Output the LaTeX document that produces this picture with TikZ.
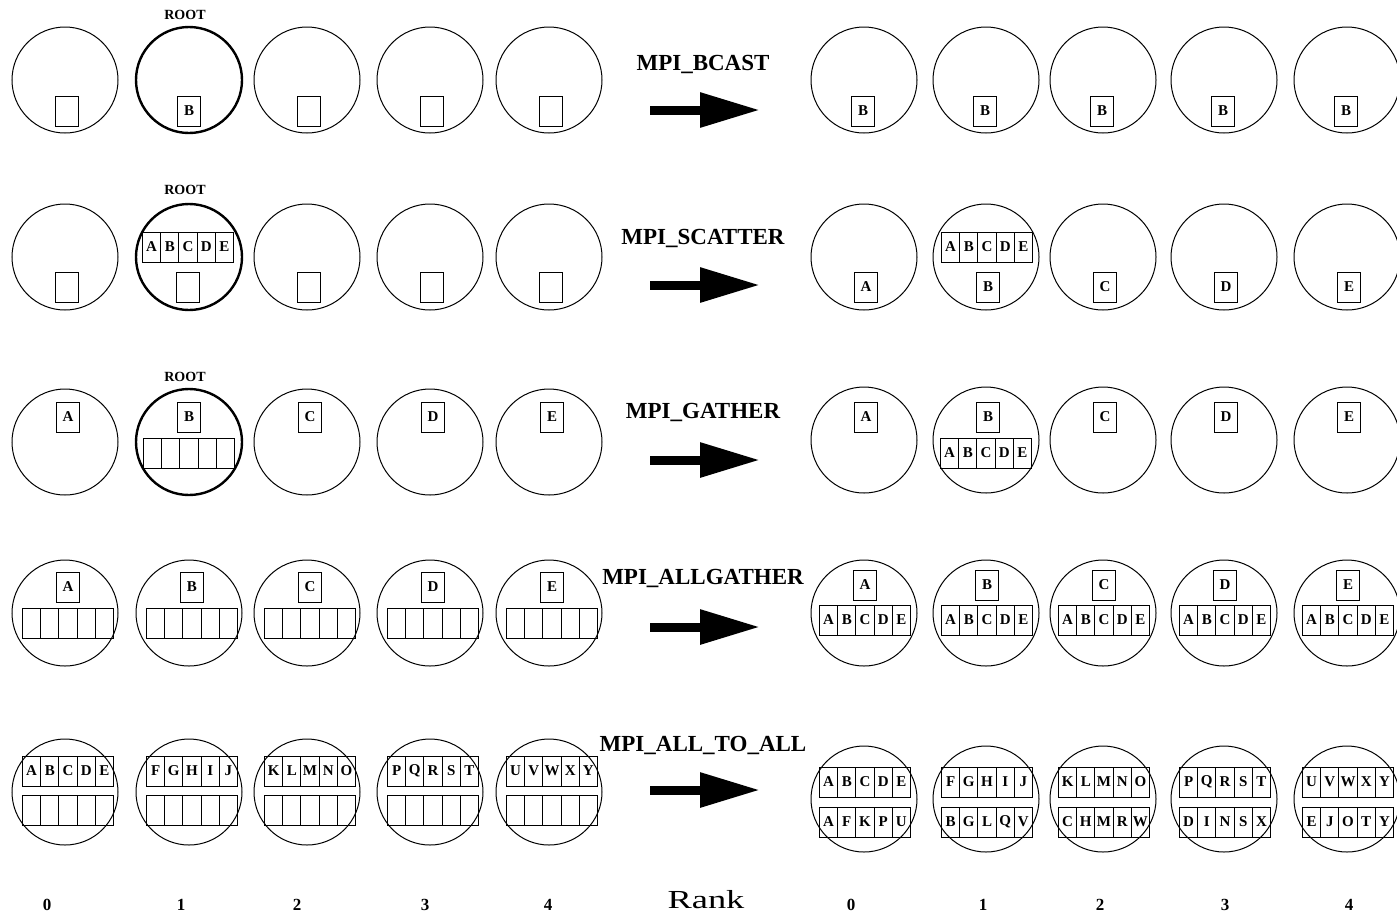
\documentclass[tikz,border=0pt]{standalone}
\usepackage{fontspec}
\usepackage{graphicx}
\setmainfont{Liberation Serif}
\usetikzlibrary{arrows.meta}
\newcommand\cellfont{\fontsize{15}{15}\selectfont\bfseries}
\newcommand\opfont{\fontsize{23}{23}\selectfont\bfseries}
\newcommand\rootfont{\fontsize{14}{14}\selectfont\bfseries}
\newcommand\ranknumfont{\fontsize{17}{17}\selectfont\bfseries}
\newcommand\ranklabfont{\fontsize{26}{26}\selectfont}
% array of five cells: name, x, y, letters
\newcommand\bufarray[4]{%
  \edef\celllist{#4}%
  \foreach \L [count=\k] in \celllist
    \node[cell] (#1-\k) at ({#2+(\k-3)*18.2},#3) {\L};}
\begin{document}
\begin{tikzpicture}[x=1pt,y=-1pt,
  proc/.style={circle,draw,line width=1pt,minimum size=106pt,inner sep=0pt},
  rootproc/.style={proc,line width=2.4pt},
  buf/.style={draw,line width=1pt,minimum width=23pt,minimum height=30pt,inner sep=0pt,font=\cellfont},
  cell/.style={draw,line width=1pt,minimum width=18.2pt,minimum height=30pt,inner sep=0pt,font=\cellfont},
  oplabel/.style={font=\opfont,inner sep=0pt},
  rootlabel/.style={font=\rootfont,inner sep=0pt},
  bigarrow/.style={line width=9pt,-{Triangle[length=60pt,width=33pt]}},
  ranknum/.style={font=\ranknumfont,inner sep=0pt},
  ranklab/.style={font=\ranklabfont,inner sep=0pt}]
\useasboundingbox (0,0) rectangle (1397,914);

% ---------------- Row 1: MPI_BCAST ----------------
\foreach \x [count=\i from 0] in {65,189,307,430,549} {
  \ifnum\i=1
    \node[rootproc] (b-l\i) at (\x,80) {};
    \node[buf] (b-lbuf\i) at (\x,111) {B};
  \else
    \node[proc] (b-l\i) at (\x,80) {};
    \node[buf] (b-lbuf\i) at (\x+2,111) {};
  \fi
}
\node[rootlabel] (b-root) at (185,15) {ROOT};
\foreach \x [count=\i from 0] in {864,986,1103,1224,1347} {
  \node[proc] (b-r\i) at (\x,80) {};
  \node[buf] (b-rbuf\i) at (\x-1,111) {B};
}
\node[oplabel] (b-op) at (703,64) {MPI\_BCAST};
\coordinate (b-as) at (650,110);
\coordinate (b-ae) at (760,110);
\draw[bigarrow] (b-as) -- (b-ae);

% ---------------- Row 2: MPI_SCATTER ----------------
\foreach \x [count=\i from 0] in {65,189,307,430,549} {
  \ifnum\i=1
    \node[rootproc] (s-l\i) at (\x,257) {};
    \node[buf] (s-lbuf\i) at (\x-1,287) {};
  \else
    \node[proc] (s-l\i) at (\x,257) {};
    \node[buf] (s-lbuf\i) at (\x+2,287) {};
  \fi
}
\bufarray{s-larr}{188}{247}{A,B,C,D,E}
\node[rootlabel] (s-root) at (185,190) {ROOT};
\foreach \x/\L [count=\i from 0] in {864/A,986/B,1103/C,1224/D,1347/E} {
  \node[proc] (s-r\i) at (\x,257) {};
  \node[buf] (s-rbuf\i) at (\x+2,287) {\L};
}
\bufarray{s-rarr}{987}{247}{A,B,C,D,E}
\node[oplabel] (s-op) at (703,238) {MPI\_SCATTER};
\coordinate (s-as) at (650,285);
\coordinate (s-ae) at (760,285);
\draw[bigarrow] (s-as) -- (s-ae);

% ---------------- Row 3: MPI_GATHER ----------------
\foreach \x/\L [count=\i from 0] in {65/A,189/B,307/C,430/D,549/E} {
  \ifnum\i=1
    \node[rootproc] (g-l\i) at (\x,442) {};
    \node[buf] (g-lbuf\i) at (\x,417) {\L};
  \else
    \node[proc] (g-l\i) at (\x,442) {};
    \node[buf] (g-lbuf\i) at (\x+3,417) {\L};
  \fi
}
\bufarray{g-larr}{189}{453}{{},{},{},{},{}}
\node[rootlabel] (g-root) at (185,377) {ROOT};
\foreach \x/\L [count=\i from 0] in {864/A,986/B,1103/C,1224/D,1347/E} {
  \node[proc] (g-r\i) at (\x,440) {};
  \node[buf] (g-rbuf\i) at (\x+2,417) {\L};
}
\bufarray{g-rarr}{986}{453}{A,B,C,D,E}
\node[oplabel] (g-op) at (703,412) {MPI\_GATHER};
\coordinate (g-as) at (650,460);
\coordinate (g-ae) at (760,460);
\draw[bigarrow] (g-as) -- (g-ae);

% ---------------- Row 4: MPI_ALLGATHER ----------------
\foreach \x/\L [count=\i from 0] in {65/A,189/B,307/C,430/D,549/E} {
  \node[proc] (ag-l\i) at (\x,613) {};
  \node[buf] (ag-lbuf\i) at (\x+3,587) {\L};
  \bufarray{ag-larr\i}{\x+3}{623}{{},{},{},{},{}}
}
\foreach \x/\L [count=\i from 0] in {864/A,986/B,1103/C,1224/D,1347/E} {
  \node[proc] (ag-r\i) at (\x,613) {};
  \node[buf] (ag-rbuf\i) at (\x+1,585) {\L};
  \bufarray{ag-rarr\i}{\x+1}{620}{A,B,C,D,E}
}
\node[oplabel] (ag-op) at (703,578) {MPI\_ALLGATHER};
\coordinate (ag-as) at (650,627);
\coordinate (ag-ae) at (760,627);
\draw[bigarrow] (ag-as) -- (ag-ae);

% ---------------- Row 5: MPI_ALL_TO_ALL ----------------
\foreach \x/\W [count=\i from 0] in {65/{A,B,C,D,E},189/{F,G,H,I,J},307/{K,L,M,N,O},430/{P,Q,R,S,T},549/{U,V,W,X,Y}} {
  \node[proc] (aa-l\i) at (\x,792) {};
  \bufarray{aa-lup\i}{\x+3}{771}{\W}
  \bufarray{aa-llo\i}{\x+3}{810}{{},{},{},{},{}}
}
\foreach \x/\W/\V [count=\i from 0] in {864/{A,B,C,D,E}/{A,F,K,P,U},986/{F,G,H,I,J}/{B,G,L,Q,V},1103/{K,L,M,N,O}/{C,H,M,R,W},1224/{P,Q,R,S,T}/{D,I,N,S,X},1347/{U,V,W,X,Y}/{E,J,O,T,Y}} {
  \node[proc] (aa-r\i) at (\x,799) {};
  \bufarray{aa-rup\i}{\x+1}{782}{\W}
  \bufarray{aa-rlo\i}{\x+1}{822}{\V}
}
\node[oplabel] (aa-op) at (703,745) {MPI\_ALL\_TO\_ALL};
\coordinate (aa-as) at (650,790);
\coordinate (aa-ae) at (760,790);
\draw[bigarrow] (aa-as) -- (aa-ae);

% ---------------- Rank labels ----------------
\foreach \x [count=\i from 0] in {47,181,297,425,548} {
  \node[ranknum] (rl\i) at (\x,905) {\i};
}
\foreach \x [count=\i from 0] in {851,983,1100,1225,1349} {
  \node[ranknum] (rr\i) at (\x,905) {\i};
}
\node[ranklab] (rank) at (706,900) {\scalebox{1.4}[1]{Rank}};
\end{tikzpicture}
\end{document}
